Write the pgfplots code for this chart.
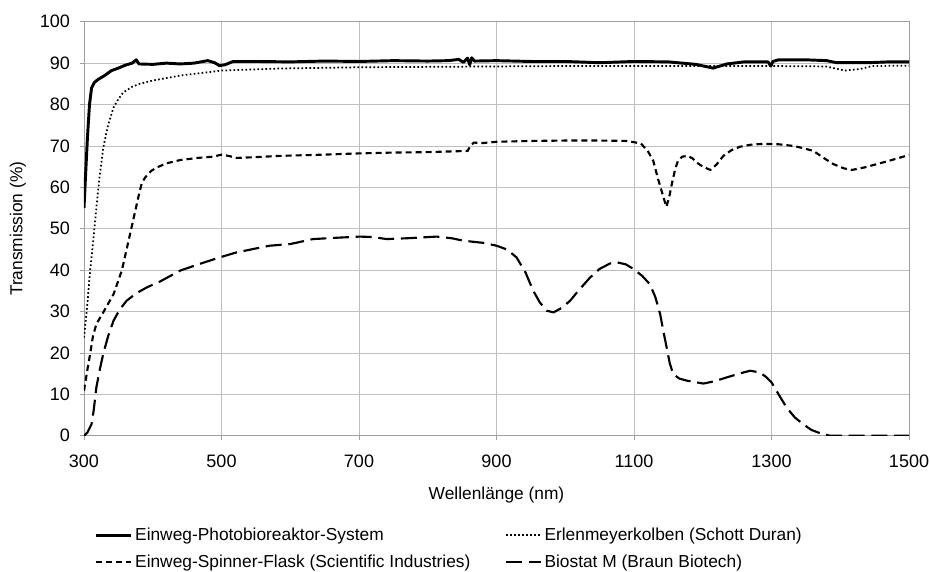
\documentclass[border=0pt]{standalone}
\usepackage{fontspec}
\setmainfont{Liberation Sans}
\usepackage{pgfplots}
\pgfplotsset{compat=1.18}

\begin{document}
\begin{tikzpicture}
\path[use as bounding box] (-63pt,-101.5pt) rectangle (634.5pt,326.8pt);
\begin{axis}[
    at={(0pt,0pt)}, anchor=south west,
    width=618.75pt, height=310.5pt,
    scale only axis,
    xmin=300, xmax=1500,
    ymin=0, ymax=100,
    xtick={300,500,...,1500},
    ytick={0,10,...,100},
    grid=major,
    major grid style={color=gray!50, line width=0.6pt},
    axis line style={color=gray!75, line width=0.6pt},
    tick style={color=gray!75, line width=0.6pt},
    tick align=outside,
    major tick length=3pt,
    xtick pos=left, ytick pos=left,
    /pgf/number format/assume math mode=true,
    /pgf/number format/set thousands separator={},
    tick label style={font=\fontsize{13.5}{15}\selectfont},
    label style={font=\fontsize{13}{15}\selectfont},
    xticklabel style={yshift=-8pt},
    yticklabel style={xshift=-4pt},
    xlabel={Wellenlänge (nm)},
    ylabel={Transmission (\%)},
    xlabel style={at={([yshift=-44.5pt]axis description cs:0.5,0)}, anchor=center},
    ylabel style={at={([xshift=-49.5pt]axis description cs:0,0.5)}, anchor=center},
    legend columns=2,
    legend cell align=left,
    legend image code/.code={\draw[#1] (0pt,0pt) -- (26pt,0pt);},
    legend style={draw=none, fill=none,
        at={(axis description cs:0,0)}, anchor=north west,
        xshift=5pt, yshift=-65pt,
        font=\fontsize{13}{15}\selectfont,
        row sep=5pt,
        /tikz/every even column/.append style={column sep=24pt}},
]

% Einweg-Photobioreaktor-System
\addplot[black, line width=2.2pt, line join=round] coordinates {
(300,55) (302,62) (305,72) (308,80) (311,84) (315,85.3) (320,86) (330,87)
(340,88.2) (350,88.8) (360,89.5) (370,90) (376,90.8) (380,89.8) (400,89.7)
(420,90) (440,89.8) (460,90) (480,90.6) (490,90.1) (497,89.4) (505,89.6)
(517,90.4) (550,90.4) (600,90.3) (650,90.5) (700,90.4) (750,90.6) (800,90.5)
(830,90.6) (845,90.9) (852,90.2) (858,91.2) (861,89.6) (864,91.3) (868,90.5)
(900,90.6) (950,90.4) (1000,90.4) (1050,90.1) (1100,90.4) (1150,90.3)
(1190,89.7) (1215,88.8) (1235,89.8) (1260,90.3) (1295,90.3) (1299,89.3)
(1302,90.4) (1310,90.8) (1350,90.8) (1380,90.6) (1395,90.1) (1440,90.1)
(1470,90.3) (1500,90.3)
};
\addlegendentry{Einweg-Photobioreaktor-System}

% Erlenmeyerkolben
\addplot[black, line width=1.3pt, dash pattern=on 1.2pt off 1.8pt] coordinates {
(300,23.7) (305,32) (309,40) (314,48) (318.5,56) (323,63) (328,69.6)
(335,75) (343,79.3) (350,81.3) (357,82.9) (370,84.3) (381,85) (400,85.8)
(440,87) (500,88.2) (585,88.7) (700,89) (800,89.1) (900,89.2) (1000,89.3)
(1100,89.3) (1200,89.3) (1300,89.3) (1380,89.2) (1393,88.7) (1407,88.2)
(1429,88.6) (1447,89.3) (1500,89.4)
};
\addlegendentry{Erlenmeyerkolben (Schott Duran)}

% Einweg-Spinner-Flask
\addplot[black, line width=1.6pt, dash pattern=on 4.5pt off 3pt] coordinates {
(300,10.9) (305,16) (309,19.8) (313,24) (318,27) (328,29.8) (343,34.2)
(355,39.9) (367,48.7) (379,57.6) (384,61) (389,62.4) (398,64) (406,64.8)
(420,65.8) (440,66.6) (465,67.1) (488,67.4) (500,67.9) (510,67.6) (522,67.1)
(550,67.3) (585,67.6) (650,67.9) (700,68.2) (750,68.4) (800,68.5) (858,68.8)
(862,70) (867,70.8) (880,70.7) (900,71) (950,71.2) (1000,71.3) (1050,71.3)
(1090,71.2) (1110,70.6) (1120,68.8) (1128,66.4) (1135,62) (1140,59.2)
(1147,55.3) (1151,57.5) (1155,60.8) (1160,64.5) (1164,66.4) (1170,67.4)
(1178,67.6) (1185,67) (1191,66) (1200,65) (1211,64.2) (1220,65.5) (1230,67.6)
(1242,69) (1254,69.8) (1270,70.3) (1288,70.5) (1310,70.4) (1332,70)
(1345,69.5) (1361,68.8) (1375,67.2) (1390,65.6) (1405,64.6) (1417,64.2)
(1435,64.8) (1453,65.6) (1475,66.6) (1500,67.8)
};
\addlegendentry{Einweg-Spinner-Flask (Scientific Industries)}

% Biostat M
\addplot[black, line width=1.6pt, dash pattern=on 12pt off 5pt] coordinates {
(300,0) (305,0.8) (311,2.8) (314,6) (318,11.7) (323,16) (328,19.8) (335,24)
(343,27.8) (352,30.5) (362,32.6) (375,34.3) (391,35.8) (410,37.2) (440,39.9)
(470,41.6) (498,43.1) (520,44.2) (546,45.1) (570,45.9) (600,46.3) (633,47.5)
(665,47.8) (701,48.1) (720,48) (740,47.5) (770,47.7) (813,48.1) (835,47.7)
(852,47.1) (880,46.6) (900,45.9) (915,45) (929,43.1) (942,39.5) (953.5,35)
(963,32.2) (973,30.2) (983,29.8) (995,30.9) (1007,32.6) (1020,35.2)
(1036,38.2) (1050,40.3) (1065,41.6) (1075,41.9) (1088,41.4) (1099,40.3)
(1112,38.6) (1123,36.6) (1131,33.5) (1138,29.4) (1143,25) (1147.5,21.3)
(1152,17.5) (1157,14.9) (1166,13.8) (1177,13.3) (1201,12.6) (1218,13.2)
(1235,14.1) (1255,15.1) (1269,15.7) (1283,15.3) (1292,14.2) (1300,12.9)
(1311,9.8) (1322,6.8) (1334,4.4) (1346,2.8) (1358,1.4) (1371,0.6) (1385,0)
(1500,0)
};
\addlegendentry{Biostat M (Braun Biotech)}

\end{axis}
\end{tikzpicture}
\end{document}
